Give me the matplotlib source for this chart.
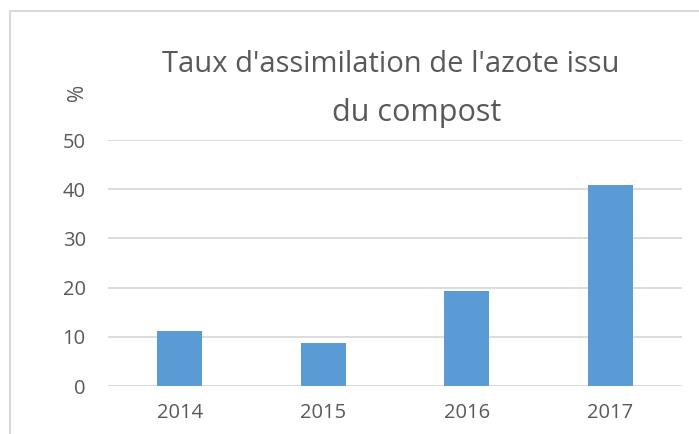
import matplotlib.pyplot as plt
from matplotlib.patches import Rectangle

# Data
years = ['2014', '2015', '2016', '2017']
taux = [11.2, 8.8, 19.3, 40.9]
yticks = [0, 10, 20, 30, 40, 50]

plt.rcParams['font.family'] = ['Open Sans', 'DejaVu Sans']

fig = plt.figure(figsize=(6.99, 4.34), dpi=100)
ax = fig.add_axes([108/699, 1-386/434, (682-108)/699, (386-140)/434])

ax.bar(years, taux, width=0.313, color='#5B9BD5', zorder=3)

ax.set_ylim(0, 50)
ax.set_xlim(-0.5, 3.5)
ax.set_yticks(yticks)
ax.grid(axis='y', color='#D9D9D9', linewidth=1.3, zorder=0)
for s in ax.spines.values():
    s.set_visible(False)
ax.tick_params(axis='both', length=0, labelsize=14.5, colors='#595959')
ax.tick_params(axis='y', pad=16)
ax.tick_params(axis='x', pad=12)

# chart border (runs off the right and bottom edges)
fig.patches.append(Rectangle((10/699, -0.1), 1.2, 1.1 - 11/434, transform=fig.transFigure,
                             fill=False, edgecolor='#D9D9D9', linewidth=1.5))

fig.text(391/699, 1-64/434, "Taux d'assimilation de l'azote issu", ha='center', va='center',
         fontsize=21, color='#595959')
fig.text(417/699, 1-113/434, "du compost", ha='center', va='center',
         fontsize=22, color='#595959')
fig.text(78/699, 1-92/434, '%', rotation=90, ha='center', va='center',
         fontsize=15, color='#595959')

fig.savefig('out.png', dpi=100)
